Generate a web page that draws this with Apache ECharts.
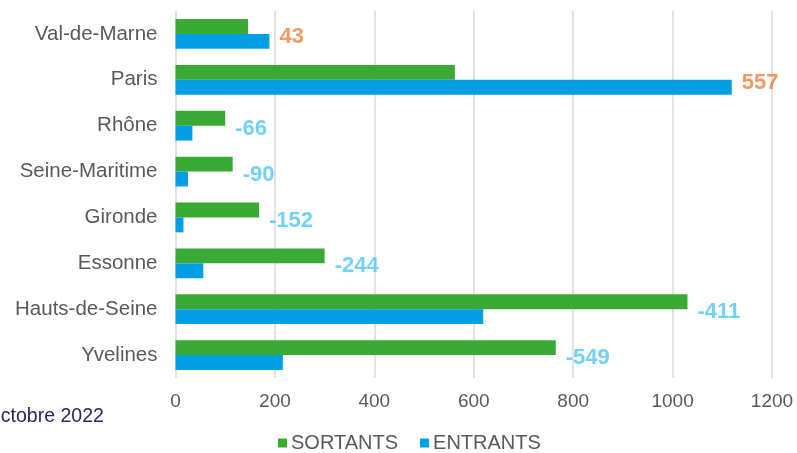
<!DOCTYPE html>
<html>
<head>
<meta charset="utf-8">
<script src="https://cdn.jsdelivr.net/npm/echarts@6/dist/echarts.min.js"></script>
<style>
  html, body { margin: 0; padding: 0; background: #fff; }
  #chart { width: 797px; height: 453px; }
</style>
</head>
<body>
<div id="chart"></div>
<script>
// Départements, top to bottom
const departements = ['Val-de-Marne', 'Paris', 'Rhône', 'Seine-Maritime', 'Gironde', 'Essonne', 'Hauts-de-Seine', 'Yvelines'];
const sortants = [146, 562, 100, 115, 168, 300, 1030, 765];
const entrants = [189, 1119, 34, 25, 16, 56, 619, 216];
const xTicks = { min: 0, max: 1200, interval: 200 };

// Net balance (entrants - sortants), shown to the right of each pair of bars
const solde = departements.map((d, i) => entrants[i] - sortants[i]);
const soldePoints = departements.map((d, i) => ({
  value: [Math.max(sortants[i], entrants[i]), i],
  label: { color: solde[i] >= 0 ? '#F0803C' : '#4FC6F8' }
}));

const FONT = 'Liberation Sans, Arial, sans-serif';
const chart = echarts.init(document.getElementById('chart'), null, { renderer: 'canvas' });
chart.setOption({
  animation: false,
  backgroundColor: '#ffffff',
  textStyle: { fontFamily: FONT },
  grid: { left: 175.5, right: 25, top: 11, bottom: 75, containLabel: false },
  xAxis: {
    type: 'value',
    min: xTicks.min, max: xTicks.max, interval: xTicks.interval,
    axisLine: { show: false },
    axisTick: { show: false },
    axisLabel: { color: '#595959', fontSize: 19, margin: 14, fontFamily: FONT, formatter: v => String(v) },
    splitLine: { show: true, lineStyle: { color: '#D9D9D9', width: 1.5 } }
  },
  yAxis: {
    type: 'category',
    data: departements,
    inverse: true,
    axisLine: { show: false },
    axisTick: { show: false },
    axisLabel: { color: '#595959', fontSize: 20.5, margin: 18, fontFamily: FONT }
  },
  legend: {
    data: ['SORTANTS', 'ENTRANTS'],
    bottom: -5,
    left: 273,
    icon: 'rect',
    itemWidth: 9,
    itemHeight: 9,
    itemGap: 22,
    textStyle: { color: '#595959', fontSize: 20, fontFamily: FONT, padding: [0, 0, 0, -1] }
  },
  graphic: [{
    type: 'text',
    left: -10,
    top: 407,
    style: { text: 'octobre 2022', fill: '#2B275E', font: '19.5px ' + FONT }
  }],
  series: [
    {
      name: 'SORTANTS',
      type: 'bar',
      data: sortants,
      itemStyle: { color: '#3AAA35' },
      barGap: '0%',
      barCategoryGap: '35%'
    },
    {
      name: 'ENTRANTS',
      type: 'bar',
      data: entrants,
      itemStyle: { color: '#009FE3' },
      barGap: '0%',
      barCategoryGap: '35%'
    },
    {
      name: 'Solde',
      type: 'scatter',
      data: soldePoints,
      symbolSize: 0,
      silent: true,
      z: 5,
      label: {
        show: true,
        position: 'right',
        distance: 10,
        offset: [0, 3],
        fontSize: 22,
        fontWeight: 'bold',
        fontFamily: FONT,
        formatter: p => String(solde[p.dataIndex])
      }
    }
  ]
});
</script>
</body>
</html>
